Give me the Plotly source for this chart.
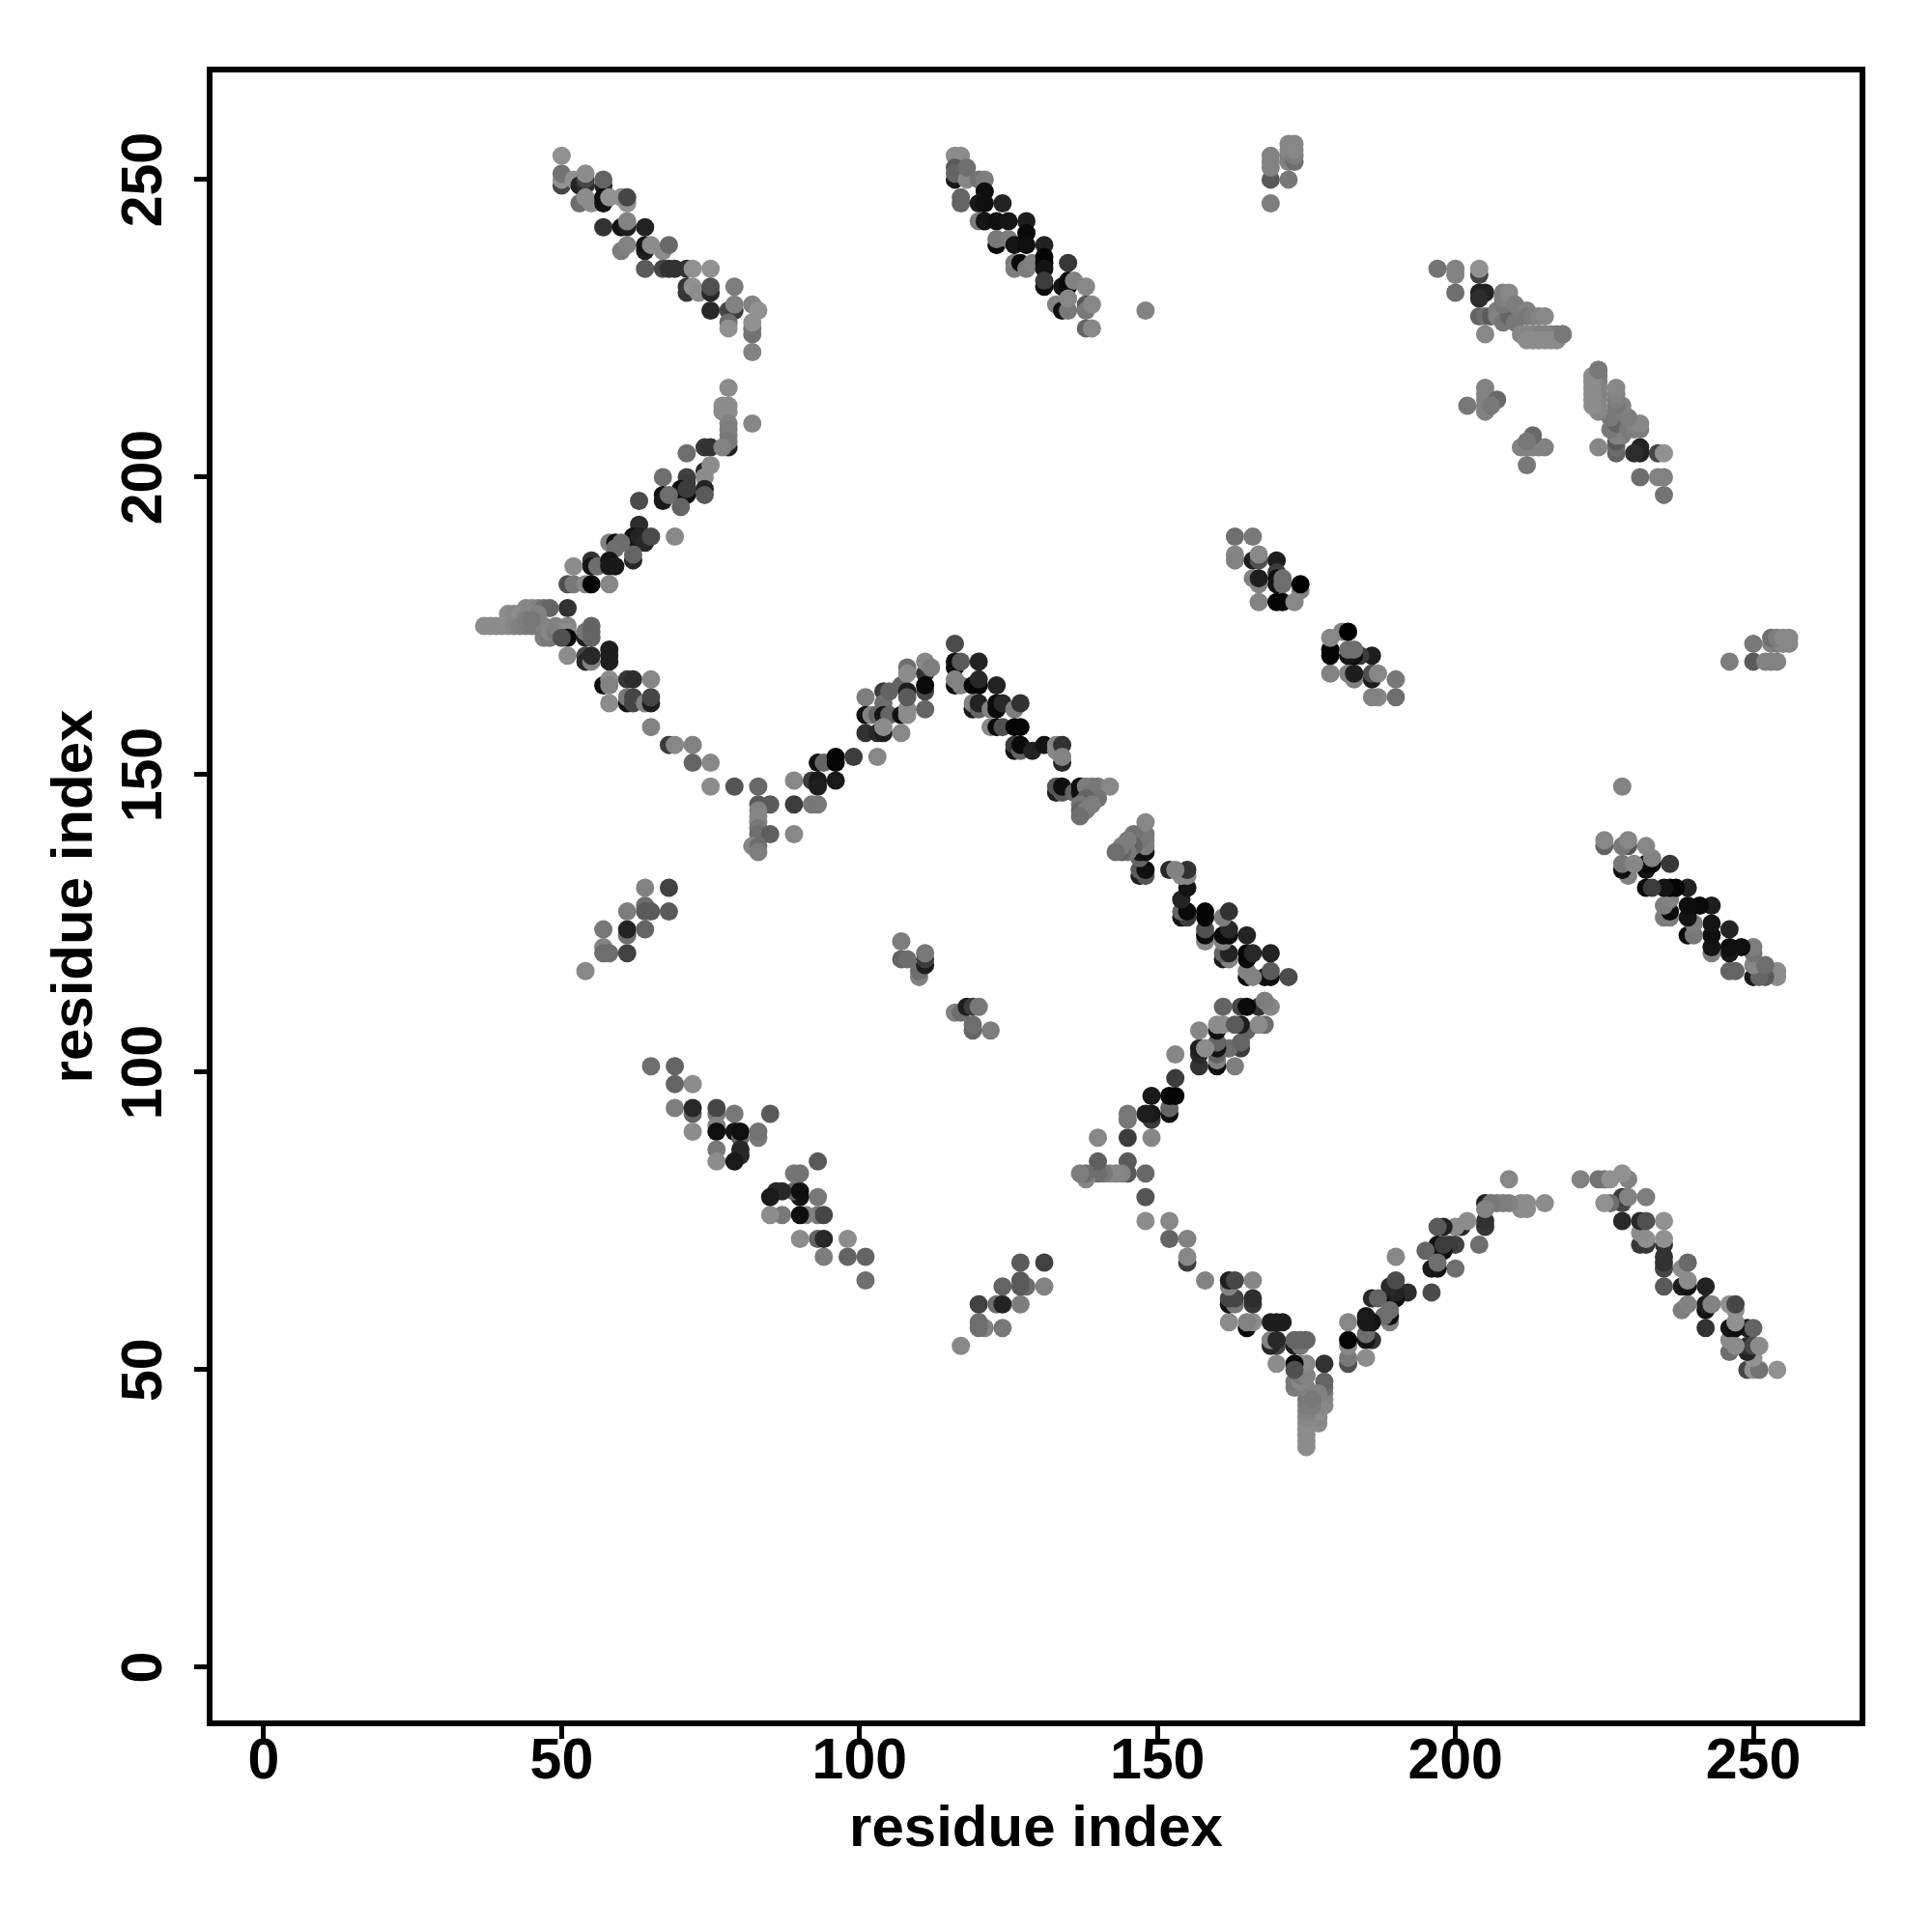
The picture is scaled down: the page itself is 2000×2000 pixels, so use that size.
import plotly.graph_objects as go

# Contacts (residue a, residue b, grey level); the map is symmetric, so only a < b is listed.
band_top_left = [
 (50,249,70),(50,250,145),(50,251,115),(50,254,145),
 (52,250,145),(53,249,35),(54,249,45),(54,250,70),(54,251,140),(57,249,30),(57,250,100),
 (53,246,110),(54,247,140),(55,246,140),(57,246,20),(57,247,15),(58,247,145),(60,247,145),(61,246,145),(61,247,70),
 (57,242,50),(60,242,20),(61,242,30),(61,243,130),(64,242,35),
 (60,238,125),(61,239,130),(64,238,30),(64,239,20),(65,239,140),(67,238,140),(68,239,105),
 (64,235,90),(67,235,70),(68,235,50),(69,235,50),(71,235,50),(72,235,145),(75,235,145),
 (71,231,55),(71,232,55),(72,232,145),(73,231,140),(75,231,40),(75,232,80),
 (75,228,40),(79,232,125),(78,228,70),(79,228,60),(79,229,130),
 (78,226,110),(78,225,145),(82,229,130),(83,228,145),(82,225,115),(82,224,115),(82,226,145),(82,221,130),
]
band_left_up = [
 (78,215,140),(77,212,140),(77,211,140),(78,212,140),(78,211,140),
 (78,205,35),(78,209,130),(78,208,125),(78,207,125),(78,206,120),(82,209,135),
 (74,205,55),(75,205,50),(77,205,130),(71,204,110),
 (74,201,40),(75,202,140),(74,200,140),(74,198,35),(74,197,90),
 (67,200,110),(71,200,65),(71,199,60),(70,198,15),(70,197,20),(71,197,15),(71,198,60),(70,195,100),
 (67,197,15),(67,196,25),(68,197,110),(63,196,75),
 (63,192,45),(62,190,15),(62,189,15),(63,190,35),(64,189,40),(65,190,75),(69,190,135),
 (62,186,40),(62,187,100),
 (58,189,130),(59,189,15),(60,189,110),(59,188,110),
 (55,186,50),(55,185,20),(56,185,110),(58,186,20),(58,185,25),(59,185,25),(52,185,140),
 (51,182,80),(52,182,120),(54,182,135),(55,182,5),(58,182,135),
 (51,178,50),(44,178,135),(45,178,135),(46,178,130),(47,178,110),(48,178,100),
 (41,177,140),(42,177,135),(43,177,140),(44,177,135),(45,177,135),(46,177,130),
]
band_row_175 = [
 (37,175,140),(38,175,140),(39,175,140),(40,175,140),(41,175,140),(42,175,135),(43,175,130),(44,175,125),
 (45,175,120),(46,175,120),(47,175,130),(44,176,125),(45,176,120),
 (47,173,125),(48,173,120),(48,174,135),(49,174,120),(49,175,130),
]
band_left_down = [
 (51,175,135),(51,174,140),(51,173,10),(50,173,80),(54,173,30),(54,174,120),(55,175,100),(55,174,100),(55,173,100),
 (51,170,140),(54,170,70),(54,169,40),(55,169,130),(55,170,40),(58,171,30),(58,170,30),(58,169,30),
 (57,165,10),(58,166,140),(58,165,130),(61,166,55),(62,166,45),(65,166,135),
 (58,162,140),(61,162,20),(61,163,120),(62,162,70),(62,163,70),(64,162,130),(65,162,30),(65,163,70),
 (65,158,130),(68,155,60),(69,155,135),(72,155,130),(72,152,100),(75,152,135),
 (75,148,140),(79,148,85),(83,148,105),(83,145,90),(85,145,90),(89,145,60),
 (83,144,130),(83,143,135),(83,142,135),(83,141,120),(83,140,110),(85,140,95),(89,140,135),
 (82,138,135),(83,138,110),(83,137,125),
]
band_mid_rise = [
 (89,149,135),(92,149,60),(93,149,25),(93,148,30),(96,149,25),(92,145,120),(93,145,120),
 (93,152,15),(94,152,100),(96,153,5),(96,152,5),(99,153,60),(103,153,135),
 (101,163,125),(101,160,15),(102,160,130),(103,160,100),(101,157,50),(103,157,40),(104,157,30),
 (104,164,60),(104,162,110),(105,164,100),(104,160,20),(105,160,100),(104,158,140),
 (107,160,15),(108,161,140),(108,160,140),(107,157,135),(107,165,100),(108,164,30),(108,163,90),
 (108,168,110),(108,167,140),(111,167,50),(111,169,135),(112,168,125),(111,164,70),(111,165,10),(111,161,100),
]
band_mid_fall = [
 (116,172,75),(116,169,15),(116,168,15),(117,169,90),(120,169,35),
 (116,165,10),(116,166,130),(117,165,130),(119,165,10),(120,165,5),(120,166,40),(123,165,35),
 (119,161,25),(119,162,130),(120,161,100),(120,162,35),(122,161,130),(123,162,10),(123,161,10),(124,162,40),(126,161,125),(127,162,50),
 (122,158,135),(123,158,10),(124,158,80),(126,158,5),(127,158,5),
 (126,154,20),(126,155,60),(127,154,100),(127,155,10),(129,154,35),(131,155,20),(133,155,135),(133,154,135),(134,155,50),(134,152,40),(134,153,130),
 (133,147,30),(133,148,85),(134,147,90),(134,148,15),(136,147,100),(137,147,20),(137,148,15),(138,148,125),(139,148,125),(140,148,120),(142,148,135),
 (139,147,120),(140,146,115),(138,146,100),(138,145,90),(137,145,120),(137,144,100),(138,144,125),(139,145,125),(137,143,110),
]
patch_top_mid = [
 (116,250,25),(116,254,140),(117,254,140),(116,252,90),(116,251,100),(118,250,135),(118,252,110),(120,250,115),(121,250,125),
 (117,247,100),(117,246,100),(121,248,15),(120,246,25),(121,246,15),(124,246,35),
 (120,243,125),(121,243,20),(123,243,15),(125,243,20),(128,243,30),
 (123,239,10),(123,240,120),(125,240,125),(126,239,20),(128,241,10),(128,239,15),(131,239,35),
 (126,236,125),(126,235,125),(127,236,10),(128,235,125),(129,236,130),
 (131,237,5),(131,236,5),(131,235,20),(131,232,10),(131,233,60),(135,236,55),
 (134,232,20),(135,233,10),(135,232,10),(136,233,130),(138,232,135),
 (133,229,130),(134,228,15),(135,228,120),(135,230,135),(138,229,85),(138,228,120),(139,229,135),(148,228,130),(138,225,100),(139,225,135),
]
patch_top_far = [
 (169,246,125),(169,250,90),(169,252,130),(169,253,130),(169,254,130),(172,250,120),
 (172,253,130),(172,254,125),(172,255,135),(172,256,135),(173,253,110),(173,254,125),(173,255,135),(173,256,135),
]
patch_upper_right = [
 (197,235,115),(200,235,130),(200,234,130),(200,231,110),(204,234,70),(204,235,145),
 (204,231,35),(205,231,35),(204,230,45),(204,227,100),(205,227,110),(205,224,135),(206,227,90),(207,228,125),(207,227,130),
 (208,226,120),(209,227,100),(210,226,120),(208,229,120),(208,230,125),(208,231,125),(209,230,130),(209,231,135),(210,229,125),
 (211,228,125),(212,228,130),(212,227,120),(213,227,125),(214,227,130),(215,227,135),
 (218,224,110),(217,224,120),(216,224,125),(215,224,130),(214,224,130),(213,224,130),(212,224,135),(211,224,135),
 (212,223,140),(213,223,140),(214,223,140),(215,223,140),(216,223,140),(217,223,140),
 (218,224,120),
]
patch_near_diag = [
 (202,212,120),(205,215,130),(205,214,130),(205,213,130),(205,212,130),(205,211,130),(207,213,105),(206,212,120),
]
patch_centre = [
 (163,190,110),(166,190,120),(163,187,135),(163,186,130),(166,186,30),(167,186,80),(167,187,135),(170,186,30),
 (166,183,130),(167,182,130),(167,183,30),(170,184,60),(170,183,15),(170,182,20),(171,183,110),(171,182,110),
 (174,181,130),(174,182,0),(167,179,130),(170,179,5),(171,179,5),(173,179,135),
]
patch_lower_left = [
 (65,101,110),(69,101,100),(69,98,100),(72,98,140),(69,94,125),(72,93,100),(72,94,40),(72,90,140),
 (76,93,120),(76,94,70),(76,91,130),(76,90,15),(79,93,120),(79,90,20),(80,89,100),(80,90,15),(85,93,90),
 (83,89,120),(83,90,115),(76,87,120),(76,85,140),(80,87,40),(80,86,40),(79,85,25),
]
patch_small_left = [
 (54,117,135),(57,124,120),(57,121,130),(57,120,110),(58,120,110),(61,120,65),(61,123,110),(61,124,35),
 (61,127,125),(64,124,100),(64,128,110),(64,127,90),(65,127,90),(64,131,130),(68,131,65),(68,127,90),
]
patch_small_mid = [
 (107,122,125),(107,119,100),(108,119,110),(110,116,130),(110,117,110),(111,118,30),(111,119,60),(111,120,120),
]

groups = [band_top_left, band_left_up, band_row_175, band_left_down, band_mid_rise, band_mid_fall,
          patch_top_mid, patch_top_far, patch_upper_right, patch_near_diag, patch_centre,
          patch_lower_left, patch_small_left, patch_small_mid]

res_a, res_b, grey = [], [], []
for g in groups:
    for a, b, s in g:
        res_a.append(a); res_b.append(b); grey.append(s)

xs = res_a + res_b
ys = res_b + res_a
cols = [f"rgb({s},{s},{s})" for s in grey + grey]

FONT = "Liberation Sans"
fig = go.Figure(go.Scatter(x=xs, y=ys, mode="markers",
                           marker=dict(size=19, color=cols, line=dict(width=0)),
                           hoverinfo="skip"))
ticks = [0, 50, 100, 150, 200, 250]
axis = dict(tickmode="array", tickvals=ticks, ticktext=[str(t) for t in ticks],
            showgrid=False, zeroline=False, showline=True, mirror=True,
            linecolor="black", linewidth=6, ticks="outside", ticklen=13, tickwidth=5,
            tickcolor="black", tickfont=dict(family=FONT, size=59, color="black", weight="bold"))
title_font = dict(family=FONT, size=60, color="black", weight="bold")
fig.update_layout(
    width=2000, height=2000, autosize=False, showlegend=False,
    paper_bgcolor="white", plot_bgcolor="white",
    margin=dict(l=212, r=83, t=67, b=227),
    xaxis=dict(axis, range=[-8.59, 267.83], ticklabelstandoff=-30,
               title=dict(text="residue index", font=title_font, standoff=18)),
    yaxis=dict(axis, range=[-8.93, 268.0], tickangle=-90, ticklabelstandoff=10, ticklabelshift=9,
               title=dict(text="residue index", font=title_font, standoff=1)),
)
fig.write_html("out.html")
